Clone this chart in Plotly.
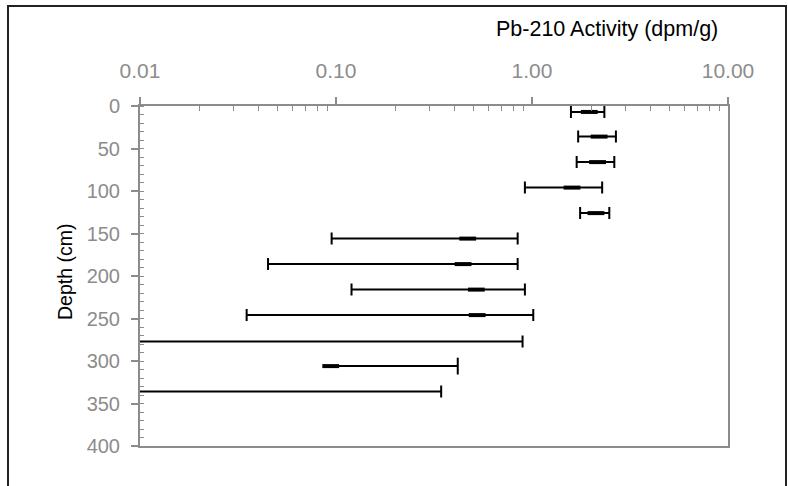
import plotly.graph_objects as go

# ---------------- data ----------------
depth_cm = [7, 36, 66, 96, 126, 156, 186, 216, 246, 277, 306, 336]
activity = [1.96, 2.20, 2.16, 1.60, 2.12, 0.47, 0.445, 0.52, 0.525, 0.005, 0.094, 0.005]
error = [0.38, 0.48, 0.47, 0.68, 0.36, 0.375, 0.40, 0.40, 0.49, 0.89, 0.324, 0.339]

x_tick_vals = [0.01, 0.1, 1, 10]
x_tick_text = ["0.01", "0.10", "1.00", "10.00"]
y_tick_vals = [0, 50, 100, 150, 200, 250, 300, 350, 400]
x_title = "Pb-210 Activity (dpm/g)"
y_title = "Depth (cm)"

# ---------------- style ----------------
W, H = 788, 486
L, T, PW, PH = 140, 106, 588, 340
R = W - L - PW
B = H - T - PH
FONT = "Liberation Sans, Arial, sans-serif"
AX = "#8c8c8c"
TXT = "#8c8c8c"
X_MIN = x_tick_vals[0]


def px(x):
    return (x - L) / PW


def py(y):
    return (T + PH - y) / PH


# Excel hides the minus bar when it would fall below zero on a log axis
full_idx = [i for i in range(len(depth_cm)) if activity[i] - error[i] > 0 or activity[i] < X_MIN]
half_idx = [i for i in range(len(depth_cm)) if i not in full_idx]

fig = go.Figure()

fig.add_trace(go.Scatter(
    x=[activity[i] for i in full_idx],
    y=[depth_cm[i] for i in full_idx],
    mode="markers",
    marker=dict(symbol="line-ew", size=12, color="black",
                line=dict(color="black", width=4)),
    error_x=dict(type="data", array=[error[i] for i in full_idx], symmetric=True,
                 color="black", thickness=2, width=6),
    showlegend=False, hoverinfo="x+y",
))

fig.add_trace(go.Scatter(
    x=[activity[i] for i in half_idx],
    y=[depth_cm[i] for i in half_idx],
    mode="markers",
    marker=dict(symbol="line-ew", size=12, color="black",
                line=dict(color="black", width=4)),
    error_x=dict(type="data", array=[error[i] for i in half_idx],
                 arrayminus=[0 for _ in half_idx], symmetric=False,
                 color="black", thickness=2, width=0),
    showlegend=False, hoverinfo="x+y",
))

# caps at the upper end of the one-sided bars
fig.add_trace(go.Scatter(
    x=[activity[i] + error[i] for i in half_idx],
    y=[depth_cm[i] for i in half_idx],
    mode="markers",
    marker=dict(symbol="line-ns", size=12, color="black",
                line=dict(color="black", width=2)),
    showlegend=False, hoverinfo="skip",
))

minor_x = [m * v for v in x_tick_vals[:-1] for m in range(2, 10)]

fig.update_layout(
    width=W, height=H,
    margin=dict(l=L, r=R, t=T, b=B),
    paper_bgcolor="white", plot_bgcolor="white",
    font=dict(family=FONT),
    xaxis=dict(
        type="log", range=[-2, 1], side="top",
        tickmode="array", tickvals=x_tick_vals, ticktext=x_tick_text,
        tickfont=dict(size=21, color=TXT, family=FONT),
        ticks="outside", ticklen=7, tickwidth=1.5, tickcolor=AX,
        ticklabelstandoff=11,
        showline=True, linecolor=AX, linewidth=2, mirror=True,
        showgrid=False, zeroline=False,
        minor=dict(tickmode="array", tickvals=minor_x, ticks="inside",
                   ticklen=5, tickwidth=1, tickcolor=AX, showgrid=False),
    ),
    xaxis2=dict(
        type="log", range=[-2, 1], side="top", overlaying="x", anchor="y",
        tickmode="array", tickvals=x_tick_vals, ticks="inside", ticklen=5,
        tickwidth=1.5, tickcolor=AX, showticklabels=False, showline=False,
        showgrid=False, zeroline=False,
    ),
    yaxis=dict(
        range=[400, 0], tickmode="array", tickvals=y_tick_vals,
        tickfont=dict(size=20, color=TXT, family=FONT),
        ticks="outside", ticklen=7, tickwidth=1.5, tickcolor=AX,
        ticklabelstandoff=7,
        showline=True, linecolor=AX, linewidth=2, mirror=True,
        showgrid=False, zeroline=False,
        minor=dict(dtick=10, ticks="inside", ticklen=4, tickwidth=1,
                   tickcolor=AX, showgrid=False),
    ),
    yaxis2=dict(
        range=[400, 0], overlaying="y", anchor="x", side="left",
        tickmode="array", tickvals=y_tick_vals, ticks="inside", ticklen=7,
        tickwidth=1.5, tickcolor=AX, showticklabels=False, showline=False,
        showgrid=False, zeroline=False,
    ),
    annotations=[
        dict(text=x_title, xref="paper", yref="paper", x=px(607), y=py(29),
             xanchor="center", yanchor="middle", showarrow=False,
             font=dict(size=21.5, color="black", family=FONT)),
        dict(text=y_title, xref="paper", yref="paper", x=px(65), y=py(272),
             xanchor="center", yanchor="middle", showarrow=False, textangle=-90,
             font=dict(size=19.5, color="black", family=FONT)),
    ],
    shapes=[
        dict(type="rect", xref="paper", yref="paper",
             x0=px(8), x1=px(786), y0=py(500), y1=py(6),
             line=dict(color="#222222", width=2), fillcolor="rgba(0,0,0,0)",
             layer="above"),
    ],
)

fig.write_html(
    "out.html",
    config={"displayModeBar": False},
    post_script="document.body.style.margin='0px';"
                "document.body.style.overflow='hidden';",
)
